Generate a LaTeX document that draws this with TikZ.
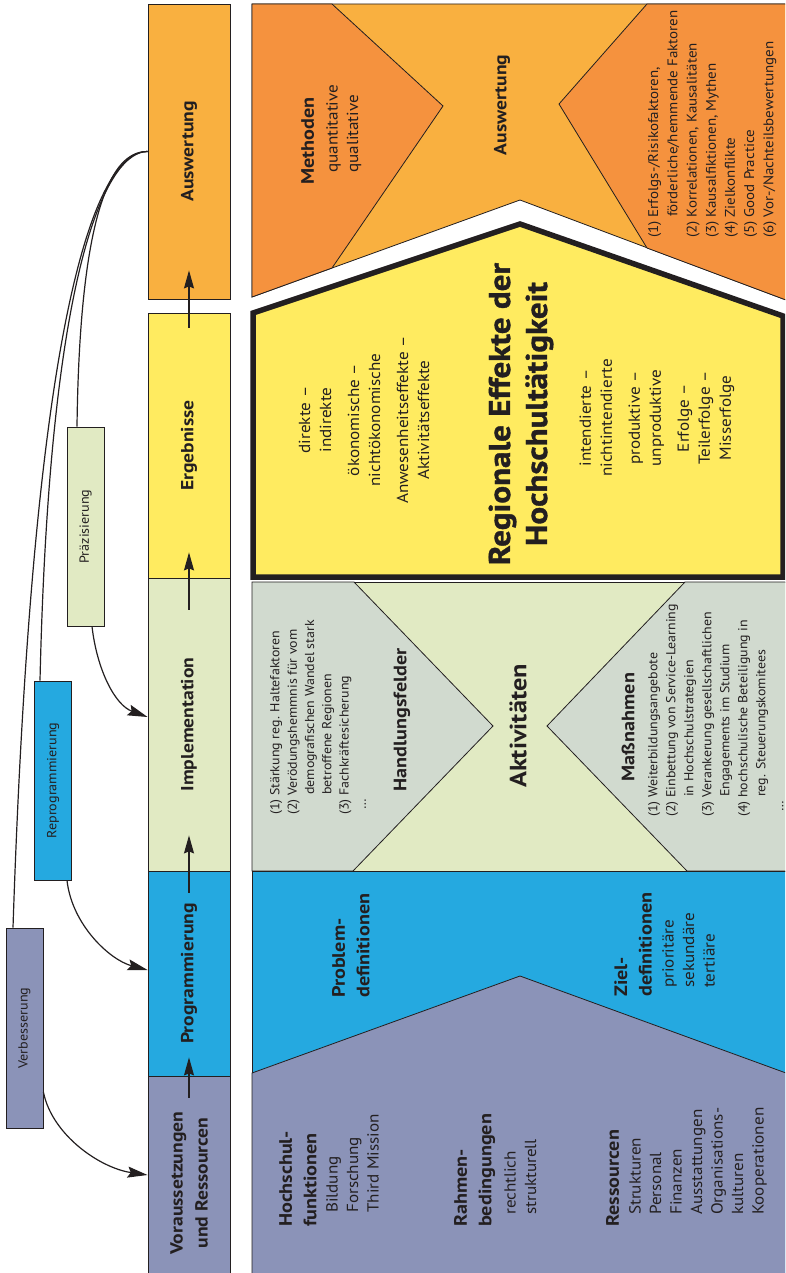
\documentclass[tikz,border=0pt]{standalone}
\usepackage{fontspec}
\setmainfont{PT Sans}[UprightFeatures={FakeStretch=1.07}, BoldFeatures={FakeStretch=1.12}]
\newfontfamily\heavyfont{PT Sans}[BoldFeatures={FakeBold=1.2, FakeStretch=1.1}]
\usetikzlibrary{arrows.meta}
\definecolor{orL}{RGB}{249,176,64}
\definecolor{orD}{RGB}{245,146,62}
\definecolor{yel}{RGB}{255,235,96}
\definecolor{grn}{RGB}{225,234,195}
\definecolor{gry}{RGB}{209,218,207}
\definecolor{blu}{RGB}{37,169,224}
\definecolor{pur}{RGB}{139,147,184}
\definecolor{ink}{RGB}{35,31,32}
\tikzset{
  sec/.style={draw=ink, line width=0.8pt},
  procbox/.style={draw=ink, line width=0.8pt, rotate=90, minimum height=82pt, inner sep=0pt, text=ink,
    font=\fontsize{17.5}{25}\selectfont\bfseries, align=center},
  fbbox/.style={draw=ink, line width=0.8pt, rotate=90, minimum width=199pt, minimum height=37pt, inner sep=0pt, text=ink,
    font=\fontsize{13.2}{17}\selectfont},
  hd/.style={rotate=90, inner sep=0pt, align=left, text=ink, font=\fontsize{18}{24.5}\selectfont\bfseries},
  itm/.style={rotate=90, inner sep=0pt, align=left, text=ink, font=\fontsize{16}{20.5}\selectfont},
  lst/.style={rotate=90, inner sep=0pt, align=left, text=ink, font=\fontsize{13}{17.3}\selectfont},
  ctr/.style={rotate=90, inner sep=0pt, align=center, text=ink, font=\fontsize{16}{21}\selectfont},
  fb/.style={draw=ink, line width=1.2pt},
  fbarrow/.style={fb, -{Stealth[length=20pt,width=11pt,inset=3pt]}},
  parrow/.style={draw=ink, line width=1.2pt, -{Stealth[length=18pt,width=10pt,inset=2pt]}},
}
\begin{document}
\begin{tikzpicture}[x=1pt,y=-1pt]
\useasboundingbox (0,0) rectangle (785,1273);
\clip (0,0) rectangle (785,1273);
% ---------- main area: top (Auswertung) ----------
\draw[sec, fill=orL] (252,4) -- (786,4) -- (786,300) -- (520,200) -- (252,297) -- cycle;
\draw[sec, fill=orD] (252,4) -- (332,4) -- (443,106) -- (332,268) -- (252,297) -- cycle;
\draw[sec, fill=orD] (647,4) -- (786,4) -- (786,300) -- (647,248) -- (559,104) -- cycle;
% ---------- middle (Aktivitaeten) ----------
\draw[sec, fill=grn] (252,582) rectangle (786,871);
\draw[sec, fill=gry] (252,582) -- (354,582) -- (493,726) -- (353,871) -- (252,871) -- cycle;
\draw[sec, fill=gry] (685,582) -- (786,582) -- (786,871) -- (687,871) -- (547,726) -- cycle;
% ---------- bottom ----------
\draw[sec, fill=blu] (252,871) rectangle (786,1290);
\draw[sec, fill=pur] (252,1073) -- (520,976) -- (786,1073) -- (786,1290) -- (252,1290) -- cycle;
% ---------- Regionale Effekte ----------
\draw[line width=5.5pt, draw=ink, fill=yel, line join=miter] (253,577) -- (253,313) -- (520,224) -- (783,316) -- (783,577) -- cycle;

% ---------- process column ----------
\node[procbox, fill=orL, minimum width=295pt] (pAus) at (189,151.5) {Auswertung};
\node[procbox, fill=yel, minimum width=265pt] (pErg) at (189,445.5) {Ergebnisse};
\node[procbox, fill=grn, minimum width=293pt] (pImp) at (189,724.5) {Implementation};
\node[procbox, fill=blu, minimum width=205pt] (pProg) at (189,973.5) {Programmierung};
\node[procbox, fill=pur, minimum width=214pt] (pVor) at (189,1183) {Voraussetzungen\\und Ressourcen};
\draw[parrow] ([yshift=-15pt]pErg.east) -- ([yshift=29pt]pAus.west);
\draw[parrow] ([yshift=-32pt]pImp.east) -- ([yshift=26pt]pErg.west);
\draw[parrow] ([yshift=-22pt]pProg.east) -- ([yshift=36pt]pImp.west);
\draw[parrow] ([yshift=-22pt]pVor.east) -- ([yshift=19pt]pProg.west);

% ---------- feedback boxes ----------
\node[fbbox, fill=grn] (prz) at (85.5,526.5) {Präzisierung};
\node[fbbox, fill=blu] (rep) at (53,780.5) {Reprogrammierung};
\node[fbbox, fill=pur, minimum width=200pt] (ver) at (24.5,1028) {Verbesserung};
\draw[fb] (pAus.north) .. controls (118,151) and (80,190) .. ([xshift=-8.5pt]prz.east);
\draw[fb] (pAus.north) .. controls (110,151) and (50,250) .. ([xshift=-13pt]rep.east);
\draw[fb] (pAus.north) .. controls (105,151) and (35,260) .. ([xshift=-11.5pt]ver.east);
\draw[fbarrow] ([xshift=6.5pt]prz.west) .. controls (97,670) and (115,705) .. ([yshift=7.5pt]pImp.north);
\draw[fbarrow] ([xshift=14pt]rep.west) .. controls (72,925) and (110,960) .. ([yshift=3.5pt]pProg.north);
\draw[fbarrow] ([yshift=-64pt]ver.south) .. controls (52,1135) and (100,1168) .. ([yshift=8pt]pVor.north);

% ---------- texts: top ----------
\node[hd, anchor=north west] (hMeth) at (301,185) {Methoden};
\node[itm, anchor=north west] (iMeth) at (326,173) {quantitative\\qualitative};
\node[rotate=90, inner sep=0pt, text=ink, font=\fontsize{17.5}{24}\selectfont\bfseries] (tAus) at (502,105) {Auswertung};
\node[lst, anchor=north west, font=\fontsize{14}{19.2}\selectfont] (lAus) at (648,238)
  {(1) Erfolgs-/Risikofaktoren,\\\hspace*{21pt}förderliche/hemmende Faktoren\\(2) Korrelationen, Kausalitäten\\(3) Kausalfiktionen, Mythen\\(4) Zielkonflikte\\(5) Good Practice\\(6) Vor-/Nachteilsbewertungen};

% ---------- texts: Regionale Effekte ----------
\node[rotate=90, inner sep=0pt, align=center, text=ink, font=\heavyfont\fontsize{30}{37}\selectfont\bfseries] (title) at (521,414)
  {Regionale Effekte der\\Hochschultätigkeit};
\node[ctr] (cL) at (364,420) {direkte –\\indirekte\\[7pt]ökonomische –\\nichtökonomische\\[7pt]Anwesenheitseffekte –\\Aktivitätseffekte};
\node[ctr] (cR) at (657,418) {intendierte –\\nichtintendierte\\[7pt]produktive –\\unproduktive\\[7pt]Erfolge –\\Teilerfolge –\\Misserfolge};

% ---------- texts: Aktivitaeten ----------
\node[rotate=90, inner sep=0pt, text=ink, font=\fontsize{23.5}{28}\selectfont\bfseries] (akt) at (518,726) {Aktivitäten};
\node[hd] (hHand) at (402,720) {Handlungsfelder};
\node[hd] (hMass) at (628,727) {Maßnahmen};
\node[lst, anchor=north west] (lHand) at (270,815)
  {(1) Stärkung reg. Haltefaktoren\\(2) Verödungshemmnis für vom\\\hspace*{20pt}demografischen Wandel stark\\\hspace*{20pt}betroffene Regionen\\(3) Fachkräftesicherung\\\hspace*{5pt}\dots};
\node[lst, anchor=north west, font=\fontsize{13}{18}\selectfont] (lMass) at (648,817)
  {(1) Weiterbildungsangebote\\(2) Einbettung von Service-Learning\\\hspace*{20pt}in Hochschulstrategien\\(3) Verankerung gesellschaftlichen\\\hspace*{20pt}Engagements im Studium\\(4) hochschulische Beteiligung in\\\hspace*{20pt}reg. Steuerungskomitees\\\hspace*{5pt}\dots};

% ---------- texts: bottom ----------
\node[hd, anchor=north west] (hProb) at (332,998) {Problem-\\definitionen};
\node[hd, anchor=north west] (hZiel) at (614,997) {Ziel-\\definitionen};
\node[itm, anchor=north west] (iZiel) at (662,988) {prioritäre\\sekundäre\\tertiäre};
\node[hd, anchor=north west] (hHoch) at (279,1227) {Hochschul-\\funktionen};
\node[itm, anchor=north west] (iHoch) at (326,1213) {Bildung\\Forschung\\Third Mission};
\node[hd, anchor=north west] (hRahm) at (454,1227) {Rahmen-\\bedingungen};
\node[itm, anchor=north west] (iRahm) at (504,1215) {rechtlich\\strukturell};
\node[hd, anchor=north west] (hRess) at (606,1227) {Ressourcen};
\node[itm, anchor=north west] (iRess) at (629,1215) {Strukturen\\Personal\\Finanzen\\Ausstattungen\\Organisations-\\kulturen\\Kooperationen};
\end{tikzpicture}
\end{document}
